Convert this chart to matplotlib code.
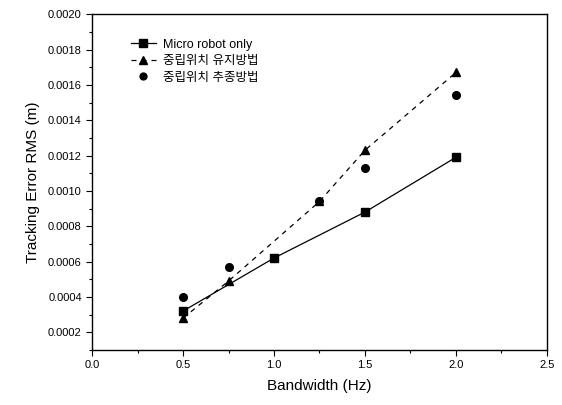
import numpy as np
from matplotlib import pyplot as plt
from matplotlib.ticker import MultipleLocator, FormatStrFormatter

plt.rcParams['font.family'] = ['Liberation Sans', 'Noto Sans CJK KR', 'DejaVu Sans']

# data
bw_only = [0.5, 1.0, 1.5, 2.0]
err_only = [0.00032, 0.00062, 0.00088, 0.00119]

bw_hold = [0.5, 0.75, 1.25, 1.5, 2.0]
err_hold = [0.00028, 0.00049, 0.00094, 0.00123, 0.00167]

bw_track = [0.5, 0.75, 1.25, 1.5, 2.0]
err_track = [0.00040, 0.00057, 0.00094, 0.00113, 0.00154]

labels = ['Micro robot only', '중립위치 유지방법', '중립위치 추종방법']

fig = plt.figure(figsize=(5.62, 4.05), dpi=100)
ax = fig.add_axes([0.164, 0.136, 0.809, 0.829])

ax.plot(bw_only, err_only, '-', color='black', lw=0.9,
        marker='s', ms=6, label=labels[0])
ax.plot(bw_hold, err_hold, '--', color='black', lw=0.9, dashes=(4, 4),
        marker='^', ms=6, label=labels[1])
ax.plot(bw_track, err_track, 'o', color='black', ms=5.5, label=labels[2])

ax.set_xlim(0.0, 2.5)
ax.set_ylim(0.0001, 0.0020)
ax.xaxis.set_major_locator(MultipleLocator(0.5))
ax.xaxis.set_minor_locator(MultipleLocator(0.25))
ax.yaxis.set_major_locator(MultipleLocator(0.0002))
ax.yaxis.set_minor_locator(MultipleLocator(0.0001))
ax.xaxis.set_major_formatter(FormatStrFormatter('%.1f'))
ax.yaxis.set_major_formatter(FormatStrFormatter('%.4f'))
ax.set_yticks(np.arange(0.0002, 0.00201, 0.0002))

ax.tick_params(which='major', direction='out', length=4, width=0.8, labelsize=8)
ax.tick_params(which='minor', direction='out', length=2.5, width=0.8)
for s in ax.spines.values():
    s.set_linewidth(1.0)

ax.set_xlabel('Bandwidth (Hz)', fontsize=11, labelpad=6)
ax.set_ylabel('Tracking Error RMS (m)', fontsize=11, labelpad=6)

leg = ax.legend(loc='upper left', bbox_to_anchor=(0.06, 0.96), frameon=False,
                fontsize=9, handlelength=2.0, handletextpad=0.6,
                labelspacing=0.35, markerscale=0.9)

fig.savefig('out.png', dpi=100)
